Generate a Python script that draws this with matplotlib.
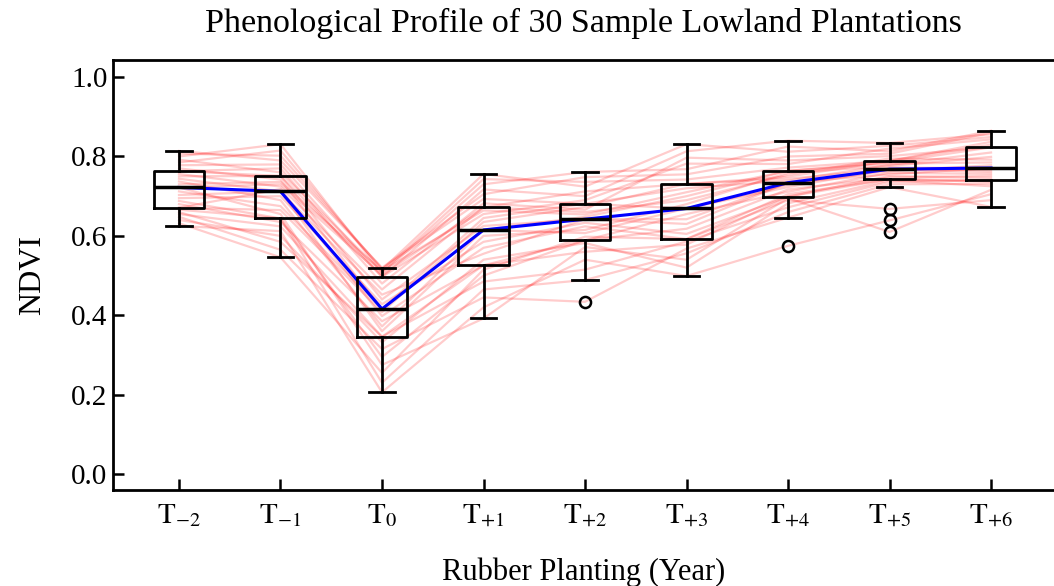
import numpy as np
import matplotlib
matplotlib.use("Agg")
import matplotlib.pyplot as plt

# NDVI of the 30 sample plantations, one list per year (sample order kept)
t_m2 = [0.703, 0.785, 0.648, 0.744, 0.671, 0.814, 0.625, 0.763, 0.722, 0.680,
        0.800, 0.660, 0.730, 0.770, 0.632, 0.695, 0.750, 0.807, 0.666, 0.712,
        0.778, 0.640, 0.737, 0.688, 0.792, 0.655, 0.756, 0.722, 0.671, 0.763]
t_m1 = [0.712, 0.815, 0.565, 0.712, 0.665, 0.790, 0.612, 0.770, 0.655, 0.635,
        0.831, 0.585, 0.736, 0.742, 0.546, 0.700, 0.751, 0.802, 0.644, 0.675,
        0.780, 0.600, 0.690, 0.644, 0.760, 0.624, 0.724, 0.730, 0.718, 0.751]
t_0 = [0.452, 0.515, 0.315, 0.360, 0.408, 0.520, 0.206, 0.480, 0.275, 0.385,
       0.506, 0.346, 0.512, 0.416, 0.255, 0.428, 0.497, 0.518, 0.230, 0.416,
       0.497, 0.332, 0.372, 0.295, 0.509, 0.346, 0.465, 0.502, 0.398, 0.440]
t_p1 = [0.555, 0.756, 0.445, 0.600, 0.635, 0.705, 0.420, 0.682, 0.392, 0.526,
        0.730, 0.485, 0.664, 0.645, 0.515, 0.585, 0.717, 0.693, 0.465, 0.615,
        0.655, 0.540, 0.615, 0.500, 0.743, 0.526, 0.672, 0.672, 0.570, 0.625]
t_p2 = [0.642, 0.724, 0.434, 0.615, 0.673, 0.748, 0.540, 0.666, 0.572, 0.589,
        0.761, 0.515, 0.654, 0.681, 0.598, 0.633, 0.700, 0.681, 0.489, 0.648,
        0.690, 0.582, 0.607, 0.589, 0.736, 0.560, 0.712, 0.660, 0.624, 0.642]
t_p3 = [0.630, 0.831, 0.568, 0.680, 0.731, 0.755, 0.499, 0.797, 0.540, 0.655,
        0.768, 0.586, 0.710, 0.669, 0.592, 0.605, 0.813, 0.720, 0.556, 0.700,
        0.782, 0.520, 0.669, 0.618, 0.742, 0.578, 0.731, 0.690, 0.592, 0.642]
t_p4 = [0.734, 0.812, 0.646, 0.759, 0.749, 0.800, 0.575, 0.790, 0.695, 0.711,
        0.825, 0.672, 0.764, 0.729, 0.690, 0.699, 0.840, 0.739, 0.660, 0.764,
        0.781, 0.682, 0.723, 0.717, 0.772, 0.699, 0.744, 0.754, 0.705, 0.734]
t_p5 = [0.763, 0.827, 0.723, 0.776, 0.789, 0.807, 0.639, 0.801, 0.610, 0.759,
        0.813, 0.736, 0.782, 0.772, 0.668, 0.751, 0.834, 0.779, 0.730, 0.785,
        0.820, 0.740, 0.768, 0.747, 0.789, 0.743, 0.768, 0.795, 0.743, 0.755]
t_p6 = [0.778, 0.849, 0.673, 0.799, 0.830, 0.860, 0.705, 0.823, 0.716, 0.756,
        0.865, 0.740, 0.785, 0.771, 0.690, 0.746, 0.856, 0.810, 0.731, 0.823,
        0.843, 0.725, 0.766, 0.751, 0.837, 0.736, 0.761, 0.792, 0.740, 0.771]

years = [t_m2, t_m1, t_0, t_p1, t_p2, t_p3, t_p4, t_p5, t_p6]
year_labels = [r'$\mathrm{T}_{-2}$', r'$\mathrm{T}_{-1}$', r'$\mathrm{T}_{0}$',
               r'$\mathrm{T}_{+1}$', r'$\mathrm{T}_{+2}$', r'$\mathrm{T}_{+3}$',
               r'$\mathrm{T}_{+4}$', r'$\mathrm{T}_{+5}$', r'$\mathrm{T}_{+6}$']

plt.rcParams['font.family'] = ['Liberation Serif', 'DejaVu Serif']
plt.rcParams['mathtext.fontset'] = 'stix'

data = np.array(years)          # shape (9, 30)
pos = np.arange(1, len(years) + 1)

fig = plt.figure(figsize=(10.54, 5.86), dpi=100)
ax = fig.add_axes([113 / 1054, 96 / 586, 1 - 113 / 1054, 430 / 586])

# individual sample profiles
for s in range(data.shape[1]):
    ax.plot(pos, data[:, s], color='red', alpha=0.2, lw=1.6, zorder=1)

# median profile
ax.plot(pos, np.median(data, axis=1), color='blue', lw=2.2, zorder=2)

lw = 2
ax.boxplot(years, positions=pos, widths=0.5, whis=1.5,
           boxprops=dict(color='black', lw=lw),
           whiskerprops=dict(color='black', lw=lw),
           capprops=dict(color='black', lw=lw),
           medianprops=dict(color='black', lw=2.5),
           flierprops=dict(marker='o', mfc='none', mec='black', ms=8, mew=1.8),
           zorder=3)

ax.set_xlim(0.35, 9.62)
ax.set_ylim(-0.04, 1.043)
ax.set_xticks(pos)
ax.set_xticklabels(year_labels)
ax.set_yticks(np.arange(0, 1.01, 0.2))
ax.set_yticklabels(['%.1f' % v for v in np.arange(0, 1.01, 0.2)])

for side in ['left', 'bottom', 'top']:
    ax.spines[side].set_linewidth(2)
ax.spines['right'].set_visible(False)

ax.tick_params(axis='both', direction='in', length=8, width=1.8)
ax.tick_params(axis='y', labelsize=21, pad=4)
ax.tick_params(axis='x', labelsize=21, pad=9)

ax.set_title('Phenological Profile of 30 Sample Lowland Plantations',
             fontsize=24.5, pad=20)
ax.set_xlabel('Rubber Planting (Year)', fontsize=22, labelpad=20)
ax.set_ylabel('NDVI', fontsize=23, labelpad=17)

fig.savefig('out.png', dpi=100)
